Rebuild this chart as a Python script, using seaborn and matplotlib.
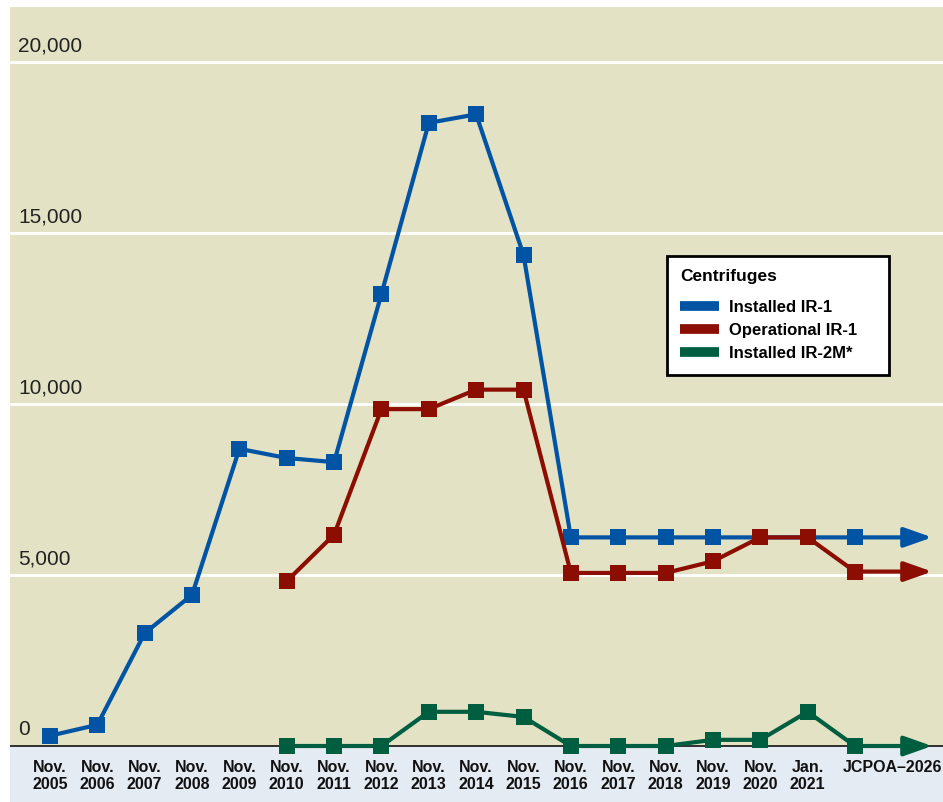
import numpy as np
import pandas as pd
import matplotlib.pyplot as plt
import seaborn as sns
from matplotlib.lines import Line2D

# categorie sull'asse x
periodi = ["Nov.\n2005", "Nov.\n2006", "Nov.\n2007", "Nov.\n2008", "Nov.\n2009",
           "Nov.\n2010", "Nov.\n2011", "Nov.\n2012", "Nov.\n2013", "Nov.\n2014",
           "Nov.\n2015", "Nov.\n2016", "Nov.\n2017", "Nov.\n2018", "Nov.\n2019",
           "Nov.\n2020", "Jan.\n2021", "JCPOA\u20132026"]

# valori delle serie (NaN = dato assente)
installed_ir1 = [300, 620, 3300, 4420, 8690, 8420, 8300, 13220, 18220, 18470,
                 14360, 6100, 6100, 6100, 6100, 6100, 6100, 6100]
operational_ir1 = [np.nan, np.nan, np.nan, np.nan, np.nan, 4820, 6180, 9850, 9850, 10420,
                   10420, 5060, 5060, 5060, 5400, 6100, 6100, 5100]
installed_ir2m = [np.nan, np.nan, np.nan, np.nan, np.nan, 0, 0, 0, 1000, 1000,
                  850, 0, 0, 0, 180, 180, 1000, 0]

serie = ["Installed IR-1", "Operational IR-1", "Installed IR-2M*"]
colori = ["#0054a3", "#8c0e02", "#005e40"]
y_ticks = [0, 5000, 10000, 15000, 20000]

W, H = 943, 802
fig = plt.figure(figsize=(W / 100, H / 100), dpi=100)
ax = fig.add_axes([10 / W, 0, 1 - 10 / W, 1 - 7 / H])

# costruzione del DataFrame in formato lungo
righe = []
for nome, valori in zip(serie, [installed_ir1, operational_ir1, installed_ir2m]):
    for i, v in enumerate(valori):
        if not np.isnan(v):
            righe.append({"pos": i, "valore": v, "serie": nome})
df = pd.DataFrame(righe)

# limiti: 0 a y=746 px, 20000 a y=62 px
px_per_unit = (746 - 62) / 20000
y_top = 20000 + (62 - 7) / px_per_unit
y_bot = -(802 - 746) / px_per_unit
x0, dx = 50, 47.35
ax.set_xlim(-(x0 - 10) / dx, (943 - x0) / dx)
ax.set_ylim(y_bot, y_top)

ax.set_facecolor("#e3e2c4")
ax.axhspan(y_bot, 0, color="#e4ebf3", zorder=0.5, lw=0)
for t in y_ticks[1:]:
    ax.axhline(t, color="white", lw=2, zorder=1)
ax.axhline(0, color="#111111", lw=1.2, zorder=1.5)

for nome, c in zip(serie, colori):
    sub = df[df["serie"] == nome]
    sns.lineplot(data=sub, x="pos", y="valore", color=c, lw=3, marker="s",
                 markersize=11, markeredgewidth=0, ax=ax, zorder=3)
    ultimo = sub.iloc[-1]
    ax.annotate("", xy=(18.63, ultimo["valore"]), xytext=(ultimo["pos"], ultimo["valore"]),
                arrowprops=dict(arrowstyle="-|>,head_length=1.7,head_width=0.6",
                                color=c, lw=3, mutation_scale=10,
                                shrinkA=0, shrinkB=0), zorder=2)

# etichette asse y sopra le linee della griglia
for t in y_ticks:
    ax.annotate(f"{t:,}", xy=(8 / 933, t), xycoords=("axes fraction", "data"),
                xytext=(0, 5), textcoords="offset points", va="bottom", ha="left",
                fontsize=15, color="#222222", family="Liberation Sans")

# etichette asse x dentro la fascia azzurra
y_lab = -(760 - 746) / px_per_unit
for i, lab in enumerate(periodi):
    xi = i + 0.8 if i == len(periodi) - 1 else i  # l'ultima etichetta è spostata a destra
    ax.text(xi, y_lab, lab, ha="center", va="top", fontsize=11.5, fontweight="bold",
            family="Liberation Sans", color="#111111", linespacing=1.2)

ax.set_xticks([])
ax.set_yticks([])
ax.set_xlabel("")
ax.set_ylabel("")
for s in ax.spines.values():
    s.set_visible(False)

handles = [Line2D([0], [0], color=c, lw=7, solid_capstyle="butt") for c in colori]
etichette = [s + "    " for s in serie]
leg = fig.legend(handles, etichette, title="Centrifuges", loc="upper left",
                 bbox_to_anchor=(667 / W, 1 - 256 / H), bbox_transform=fig.transFigure,
                 frameon=True, fancybox=False, framealpha=1, facecolor="white",
                 edgecolor="black", borderaxespad=0, handlelength=2.3,
                 handletextpad=0.6, labelspacing=0.5, borderpad=0.8,
                 alignment="left", prop={"family": "Liberation Sans", "weight": "bold", "size": 12},
                 title_fontproperties={"family": "Liberation Sans", "weight": "bold", "size": 12.5})
leg._legend_box.sep = 11
leg.get_frame().set_linewidth(2)
leg.set_zorder(5)

fig.savefig("out.png", dpi=100)
